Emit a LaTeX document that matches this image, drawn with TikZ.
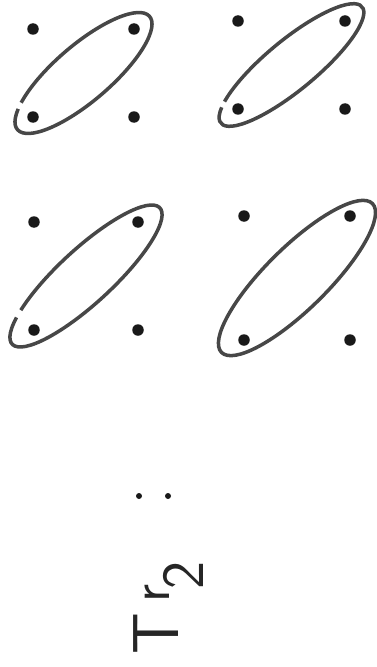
\documentclass[tikz,border=0pt]{standalone}
\usepackage{fontspec}
\usepackage{tikz}
\usetikzlibrary{positioning, calc}

\begin{document}
\begin{tikzpicture}[on grid,
    dot/.style={circle, fill=black!90, inner sep=0pt, minimum size=0.23cm},
    lasso/.style={draw=black!72, line width=2pt},
    txt/.style={rotate=90, inner sep=0pt, text=black!85, font=\sffamily\fontsize{#1}{#1}\selectfont}]
    \useasboundingbox (0,0) rectangle (7.54,-13.34);

    \node[dot] (a1) at (0.66,-0.58) {};
    \node[dot, right=2.02cm of a1] (a2) {};
    \node[dot, below=1.76cm of a1] (a3) {};
    \node[dot, right=2.02cm of a3] (a4) {};
    \coordinate (ma) at ($(a3)!.5!(a2)$);
    \draw[lasso, rotate around={40.6:(ma)}] (ma) ++(147:1.74 and 0.56)
        arc[start angle=147, end angle=500, x radius=1.74, y radius=0.56];

    \node[dot] (b1) at (4.76,-0.42) {};
    \node[dot, right=2.14cm of b1] (b2) {};
    \node[dot, below=1.76cm of b1] (b3) {};
    \node[dot, right=2.14cm of b3] (b4) {};
    \coordinate (mb) at ($(b3)!.5!(b2)$);
    \draw[lasso, rotate around={39.5:(mb)}] (mb) ++(152:1.83 and 0.50)
        arc[start angle=152, end angle=505, x radius=1.83, y radius=0.50];

    \node[dot] (c1) at (0.68,-4.44) {};
    \node[dot, right=2.08cm of c1] (c2) {};
    \node[dot, below=2.16cm of c1] (c3) {};
    \node[dot, right=2.08cm of c3] (c4) {};
    \coordinate (mc) at ($(c3)!.5!(c2)$);
    \draw[lasso, rotate around={42.7:(mc)}] (mc) ++(142:2.01 and 0.54)
        arc[start angle=142, end angle=495, x radius=2.01, y radius=0.54];

    \node[dot] (d1) at (4.88,-4.32) {};
    \node[dot, right=2.12cm of d1] (d2) {};
    \node[dot, below=2.48cm of d1] (d3) {};
    \node[dot, right=2.12cm of d3] (d4) {};
    \coordinate (md) at ($(d3)!.5!(d2)$);
    \draw[lasso, rotate around={44.6:(md)}] (md) ellipse[x radius=2.12, y radius=0.62];

    \node[dot, minimum size=0.12cm] (e1) at (2.78,-9.92) {};
    \node[dot, minimum size=0.12cm, right=0.58cm of e1] (e2) {};

    \node[txt=37] (tt) at (3.12,-12.68) {T};
    \node[txt=32] (tr) at (3.15,-11.86) {r};
    \node[txt=34] (t2) at (3.66,-11.50) {2};
\end{tikzpicture}
\end{document}
